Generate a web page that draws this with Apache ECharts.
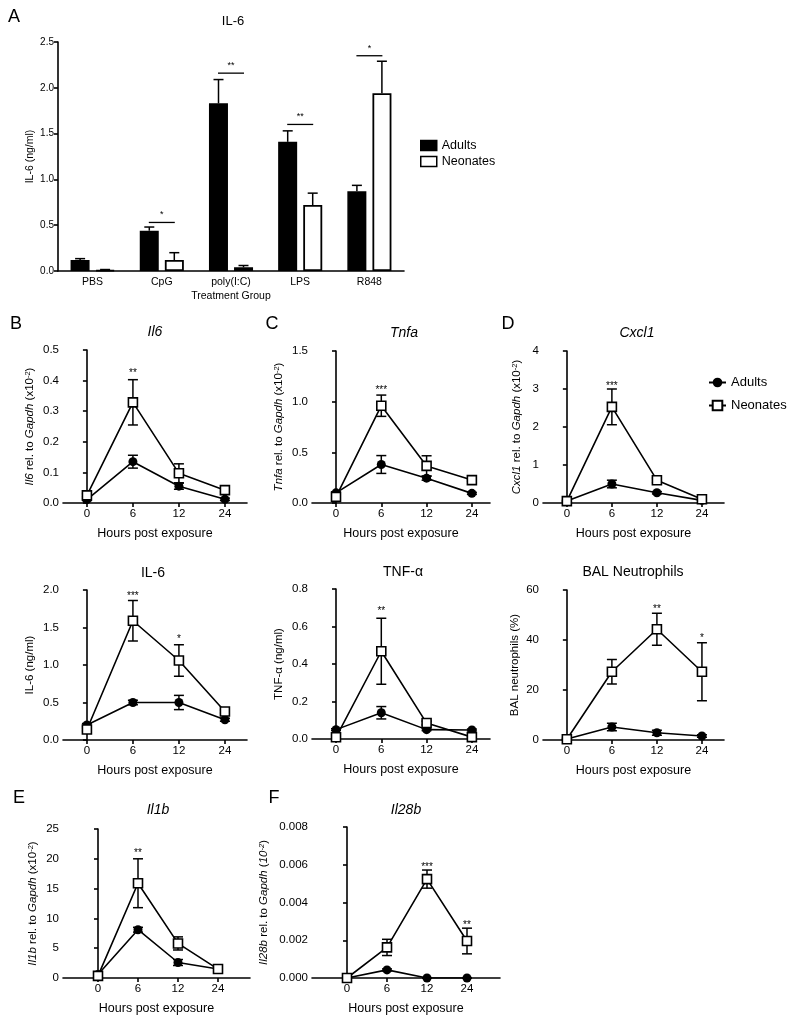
<!DOCTYPE html>
<html><head><meta charset="utf-8">
<script src="https://cdn.jsdelivr.net/npm/echarts@6/dist/echarts.min.js"></script>
<style>html,body{margin:0;padding:0;background:#fff}#c{width:800px;height:1025px}</style>
</head><body><div id="c"></div><script>
const FONT = '"Liberation Sans", Arial, Helvetica, sans-serif';

// ---------- Panel A data ----------
const treatmentGroups = ['PBS', 'CpG', 'poly(I:C)', 'LPS', 'R848'];
const aAdults = [0.12, 0.44, 1.83, 1.41, 0.87];
const aAdultsErr = [0.015, 0.04, 0.26, 0.12, 0.065];
const aNeonates = [0.01, 0.12, 0.04, 0.72, 1.94];
const aNeonatesErr = [0.006, 0.08, 0.02, 0.13, 0.35];
const aSigIndex = [1, 2, 3, 4];
const aSigValue = [0.53, 2.16, 1.60, 2.35];
const aSigText = ['*', '**', '**', '*'];
const aTicks = [0, 0.5, 1.0, 1.5, 2.0, 2.5];

// ---------- time-course data (hours post exposure) ----------
const hourLabels = ['0', '6', '12', '24'];

const bAdults = [0.011, 0.135, 0.055, 0.012];
const bAdultsErr = [0.003, 0.021, 0.010, 0.004];
const bNeonates = [0.025, 0.329, 0.097, 0.042];
const bNeonatesErr = [0.005, 0.074, 0.031, 0.005];
const bSigIndex = [1], bSigValue = [0.43], bSigText = ['**'];

const cAdults = [0.10, 0.38, 0.245, 0.095];
const cAdultsErr = [0.01, 0.088, 0.02, 0.01];
const cNeonates = [0.06, 0.96, 0.366, 0.226];
const cNeonatesErr = [0.01, 0.105, 0.10, 0.01];
const cSigIndex = [1], cSigValue = [1.13], cSigText = ['***'];

const dAdults = [0.05, 0.50, 0.27, 0.07];
const dAdultsErr = [0.01, 0.10, 0.03, 0.01];
const dNeonates = [0.05, 2.53, 0.60, 0.10];
const dNeonatesErr = [0.02, 0.47, 0.06, 0.02];
const dSigIndex = [1], dSigValue = [3.13], dSigText = ['***'];

const il6Adults = [0.20, 0.50, 0.50, 0.27];
const il6AdultsErr = [0.02, 0.03, 0.095, 0.02];
const il6Neonates = [0.14, 1.59, 1.06, 0.38];
const il6NeonatesErr = [0.02, 0.27, 0.21, 0.02];
const il6SigIndex = [1, 2], il6SigValue = [1.95, 1.37], il6SigText = ['***', '*'];

const tnfAdults = [0.05, 0.14, 0.05, 0.048];
const tnfAdultsErr = [0.005, 0.033, 0.005, 0.005];
const tnfNeonates = [0.009, 0.468, 0.085, 0.01];
const tnfNeonatesErr = [0.003, 0.176, 0.01, 0.003];
const tnfSigIndex = [1], tnfSigValue = [0.69], tnfSigText = ['**'];

const balAdults = [0.4, 5.2, 2.9, 1.6];
const balAdultsErr = [0.3, 1.5, 1.0, 0.5];
const balNeonates = [0.3, 27.3, 44.3, 27.3];
const balNeonatesErr = [0.3, 4.9, 6.4, 11.6];
const balSigIndex = [2, 3], balSigValue = [53.3, 41.6], balSigText = ['**', '*'];

const eAdults = [0.6, 8.1, 2.6, 1.5];
const eAdultsErr = [0.2, 0.4, 0.5, 0.2];
const eNeonates = [0.35, 15.9, 5.8, 1.5];
const eNeonatesErr = [0.2, 4.1, 1.1, 0.2];
const eSigIndex = [1], eSigValue = [21.3], eSigText = ['**'];

const fAdults = [0, 0.00043, 0, 0];
const fAdultsErr = [0, 0.00005, 0, 0];
const fNeonates = [0, 0.00162, 0.00524, 0.00196];
const fNeonatesErr = [0, 0.00043, 0.00048, 0.00068];
const fSigIndex = [2, 3], fSigValue = [0.0060, 0.0029], fSigText = ['***', '**'];

// ---------- build ----------
const chart = echarts.init(document.getElementById('c'));
const grids = [], xAxes = [], yAxes = [], series = [], graphics = [];

const richName = {
  i: { fontStyle: 'italic', fontSize: 11.5, fontFamily: FONT, color: '#000' },
  s: { fontSize: 7.5, verticalAlign: 'top', fontFamily: FONT, color: '#000' },
  is: { fontSize: 7.5, fontStyle: 'italic', verticalAlign: 'top', fontFamily: FONT, color: '#000' }
};
const axLine = { show: true, lineStyle: { color: '#000', width: 1.6 } };
const axTick = { show: true, inside: false, length: 4, lineStyle: { color: '#000', width: 1.6 } };

function errRender(capHalf) {
  return function (params, api) {
    const x = api.value(0), lo = api.value(1), hi = api.value(2), off = api.value(3) || 0;
    const pLo = api.coord([x, lo]), pHi = api.coord([x, hi]);
    const st = { stroke: '#000', lineWidth: 1.5, fill: null };
    const cx = pLo[0] + off;
    const ch = [
      { type: 'line', shape: { x1: cx, y1: pLo[1], x2: cx, y2: pHi[1] }, style: st },
      { type: 'line', shape: { x1: cx - capHalf, y1: pHi[1], x2: cx + capHalf, y2: pHi[1] }, style: st }
    ];
    if (api.value(4) !== 1) ch.push({ type: 'line', shape: { x1: cx - capHalf, y1: pLo[1], x2: cx + capHalf, y2: pLo[1] }, style: st });
    return { type: 'group', children: ch };
  };
}
function starRender(texts) {
  return function (params, api) {
    const p = api.coord([api.value(0), api.value(1)]);
    return { type: 'text', x: p[0], y: p[1] + 2, style: { text: texts[params.dataIndex], fill: '#000', font: '10px ' + FONT, align: 'center', verticalAlign: 'middle', textAlign: 'center', textVerticalAlign: 'middle' } };
  };
}

const linePanels = [
  { g: { left: 63, top: 350, width: 184, height: 153 }, xmin: -0.52, xmax: 3.48, ymax: 0.5, yint: 0.1, dec: 1,
    yname: '{i|Il6} rel. to {i|Gapdh} (x10{s|-2})', ygap: 27, A: bAdults, Ae: bAdultsErr, N: bNeonates, Ne: bNeonatesErr, si: bSigIndex, sv: bSigValue, st: bSigText },
  { g: { left: 312, top: 351, width: 178, height: 152 }, xmin: -0.53, xmax: 3.4, ymax: 1.5, yint: 0.5, dec: 1,
    yname: '{i|Tnfa} rel. to {i|Gapdh} (x10{s|-2})', ygap: 27, A: cAdults, Ae: cAdultsErr, N: cNeonates, Ne: cNeonatesErr, si: cSigIndex, sv: cSigValue, st: cSigText },
  { g: { left: 543, top: 351, width: 181, height: 152 }, xmin: -0.53, xmax: 3.49, ymax: 4, yint: 1, dec: 0,
    yname: '{i|Cxcl1} rel. to {i|Gapdh} (x10{s|-2})', ygap: 20, A: dAdults, Ae: dAdultsErr, N: dNeonates, Ne: dNeonatesErr, si: dSigIndex, sv: dSigValue, st: dSigText },
  { g: { left: 63, top: 590, width: 184, height: 150 }, xmin: -0.52, xmax: 3.48, ymax: 2.0, yint: 0.5, dec: 1,
    yname: 'IL-6 (ng/ml)', ygap: 27, A: il6Adults, Ae: il6AdultsErr, N: il6Neonates, Ne: il6NeonatesErr, si: il6SigIndex, sv: il6SigValue, st: il6SigText },
  { g: { left: 312, top: 589, width: 178, height: 150 }, xmin: -0.53, xmax: 3.4, ymax: 0.8, yint: 0.2, dec: 1,
    yname: 'TNF-α (ng/ml)', ygap: 27, A: tnfAdults, Ae: tnfAdultsErr, N: tnfNeonates, Ne: tnfNeonatesErr, si: tnfSigIndex, sv: tnfSigValue, st: tnfSigText },
  { g: { left: 543, top: 590, width: 181, height: 150 }, xmin: -0.53, xmax: 3.49, ymax: 60, yint: 20, dec: 0,
    yname: 'BAL neutrophils (%)', ygap: 22, A: balAdults, Ae: balAdultsErr, N: balNeonates, Ne: balNeonatesErr, si: balSigIndex, sv: balSigValue, st: balSigText },
  { g: { left: 63, top: 829, width: 187, height: 149 }, xmin: -0.875, xmax: 3.8, ymax: 25, yint: 5, dec: 0,
    yname: '{i|Il1b} rel. to {i|Gapdh} (x10{s|-2})', ygap: 24, A: eAdults, Ae: eAdultsErr, N: eNeonates, Ne: eNeonatesErr, si: eSigIndex, sv: eSigValue, st: eSigText },
  { g: { left: 312, top: 827, width: 188, height: 151 }, xmin: -0.875, xmax: 3.825, ymax: 0.008, yint: 0.002, dec: 3,
    yname: '{i|Il28b} rel. to {i|Gapdh} ({i|10}{is|-2})', ygap: 42, A: fAdults, Ae: fAdultsErr, N: fNeonates, Ne: fNeonatesErr, si: fSigIndex, sv: fSigValue, st: fSigText }
];

linePanels.forEach(function (p) {
  const k = grids.length;
  grids.push(Object.assign({ containLabel: false, outerBoundsMode: 'none' }, p.g));
  xAxes.push({
    gridIndex: k, type: 'value', min: p.xmin, max: p.xmax,
    name: 'Hours post exposure', nameLocation: 'middle', nameGap: 24,
    nameTextStyle: { fontFamily: FONT, fontSize: 12.5, color: '#000' },
    axisLine: axLine, axisTick: Object.assign({ customValues: [0, 1, 2, 3] }, axTick),
    axisLabel: { customValues: [0, 1, 2, 3], formatter: function (v) { return hourLabels[Math.round(v)]; }, color: '#000', fontFamily: FONT, fontSize: 11.5, margin: 5 },
    splitLine: { show: false }
  });
  yAxes.push({
    gridIndex: k, type: 'value', min: 0, max: p.ymax, interval: p.yint,
    name: p.yname, nameLocation: 'middle', nameGap: p.ygap,
    nameTextStyle: { fontFamily: FONT, fontSize: 11.5, color: '#000', rich: richName },
    axisLine: axLine, axisTick: axTick,
    axisLabel: { formatter: function (v) { return v.toFixed(p.dec); }, color: '#000', fontFamily: FONT, fontSize: 11.5, margin: 4 },
    splitLine: { show: false }
  });
  const errData = [];
  p.A.forEach(function (v, i) { errData.push([i, v - p.Ae[i], v + p.Ae[i]]); });
  p.N.forEach(function (v, i) { errData.push([i, v - p.Ne[i], v + p.Ne[i]]); });
  series.push({ type: 'custom', xAxisIndex: k, yAxisIndex: k, renderItem: errRender(5), data: errData, encode: { x: 0, y: [1, 2] }, z: 1, silent: true });
  series.push({ type: 'line', name: 'Adults', xAxisIndex: k, yAxisIndex: k, data: p.A.map(function (v, i) { return [i, v]; }),
    symbol: 'circle', symbolSize: 9, lineStyle: { color: '#000', width: 1.6 }, itemStyle: { color: '#000' }, z: 3, emphasis: { disabled: true } });
  series.push({ type: 'line', name: 'Neonates', xAxisIndex: k, yAxisIndex: k, data: p.N.map(function (v, i) { return [i, v]; }),
    symbol: 'rect', symbolSize: 9, lineStyle: { color: '#000', width: 1.6 }, itemStyle: { color: '#fff', borderColor: '#000', borderWidth: 1.6 }, z: 4, emphasis: { disabled: true } });
  series.push({ type: 'custom', xAxisIndex: k, yAxisIndex: k, renderItem: starRender(p.st), data: p.si.map(function (x, i) { return [x, p.sv[i]]; }), encode: { x: 0, y: 1 }, z: 5, silent: true });
});

// ---------- Panel A (bars) ----------
const kA = grids.length;
grids.push({ left: 58, top: 42, width: 346, height: 229, containLabel: false, outerBoundsMode: 'none' });
xAxes.push({
  gridIndex: kA, type: 'category', data: treatmentGroups,
  name: 'Treatment Group', nameLocation: 'middle', nameGap: 20,
  nameTextStyle: { fontFamily: FONT, fontSize: 10.5, color: '#000' },
  axisLine: axLine, axisTick: { show: false },
  axisLabel: { color: '#000', fontFamily: FONT, fontSize: 10.5, margin: 6 }
});
yAxes.push({
  gridIndex: kA, type: 'value', min: aTicks[0], max: aTicks[aTicks.length - 1], interval: aTicks[1] - aTicks[0],
  name: 'IL-6 (ng/ml)', nameLocation: 'middle', nameGap: 22,
  nameTextStyle: { fontFamily: FONT, fontSize: 10.5, color: '#000' },
  axisLine: axLine, axisTick: axTick,
  axisLabel: { formatter: function (v) { return v.toFixed(1); }, color: '#000', fontFamily: FONT, fontSize: 10, margin: 4 },
  splitLine: { show: false }
});
series.push({ type: 'bar', name: 'Adults', xAxisIndex: kA, yAxisIndex: kA, data: aAdults, barWidth: 19, barGap: '32%',
  itemStyle: { color: '#000', borderColor: '#000', borderWidth: 1.5 }, z: 2, emphasis: { disabled: true } });
series.push({ type: 'bar', name: 'Neonates', xAxisIndex: kA, yAxisIndex: kA, data: aNeonates, barWidth: 19, barGap: '32%',
  itemStyle: { color: '#fff', borderColor: '#000', borderWidth: 1.8 }, z: 2, emphasis: { disabled: true } });
const aErr = [];
aAdults.forEach(function (v, i) { aErr.push([i, v, v + aAdultsErr[i], -12.5, 1]); });
aNeonates.forEach(function (v, i) { aErr.push([i, v, v + aNeonatesErr[i], 12.5, 1]); });
series.push({ type: 'custom', xAxisIndex: kA, yAxisIndex: kA, renderItem: errRender(5), data: aErr, z: 1, silent: true });
series.push({ type: 'custom', xAxisIndex: kA, yAxisIndex: kA, silent: true, z: 3,
  data: aSigIndex.map(function (x, i) { return [x, aSigValue[i]]; }),
  renderItem: function (params, api) {
    const p = api.coord([api.value(0), api.value(1)]);
    return { type: 'group', children: [
      { type: 'line', shape: { x1: p[0] - 13, y1: p[1], x2: p[0] + 13, y2: p[1] }, style: { stroke: '#000', lineWidth: 1.3 } },
      { type: 'text', x: p[0], y: p[1] - 3, style: { text: aSigText[params.dataIndex], fill: '#000', font: '9px ' + FONT, align: 'center', verticalAlign: 'bottom', textAlign: 'center', textVerticalAlign: 'bottom' } }
    ] };
  }
});

// ---------- titles and panel letters ----------
function txt(t, x, y, size, italic) {
  graphics.push({ type: 'text', x: x, y: y, style: { text: t, fill: '#000', font: (italic ? 'italic ' : '') + size + 'px ' + FONT, align: 'center', verticalAlign: 'middle', textAlign: 'center', textVerticalAlign: 'middle' } });
}
txt('IL-6', 233, 21, 13, false);
txt('Il6', 155, 332, 14, true);
txt('Tnfa', 404, 333, 14, true);
txt('Cxcl1', 637, 333, 14, true);
txt('IL-6', 153, 573, 14, false);
txt('TNF-α', 403, 572, 14, false);
txt('BAL Neutrophils', 633, 572, 14, false);
txt('Il1b', 158, 810, 14, true);
txt('Il28b', 406, 810, 14, true);
txt('A', 14, 17, 18, false);
txt('B', 16, 324, 18, false);
txt('C', 272, 324, 18, false);
txt('D', 508, 324, 18, false);
txt('E', 19, 798, 18, false);
txt('F', 274, 798, 18, false);

chart.setOption({
  animation: false,
  backgroundColor: '#fff',
  textStyle: { fontFamily: FONT },
  grid: grids, xAxis: xAxes, yAxis: yAxes, series: series,
  graphic: graphics,
  legend: [
    { left: 415, top: 134, orient: 'vertical', itemWidth: 16, itemHeight: 10, itemGap: 3, selectedMode: false,
      textStyle: { fontFamily: FONT, fontSize: 12.5, color: '#000' },
      data: [
        { name: 'Adults', icon: 'rect', itemStyle: { color: '#000', borderColor: '#000', borderWidth: 1.5 } },
        { name: 'Neonates', icon: 'rect', itemStyle: { color: '#fff', borderColor: '#000', borderWidth: 1.5 } }
      ] },
    { left: 703, top: 371, orient: 'vertical', itemWidth: 17, itemHeight: 12, itemGap: 10, selectedMode: false,
      textStyle: { fontFamily: FONT, fontSize: 13, color: '#000' },
      data: ['Adults', 'Neonates'] }
  ]
});
</script></body></html>
